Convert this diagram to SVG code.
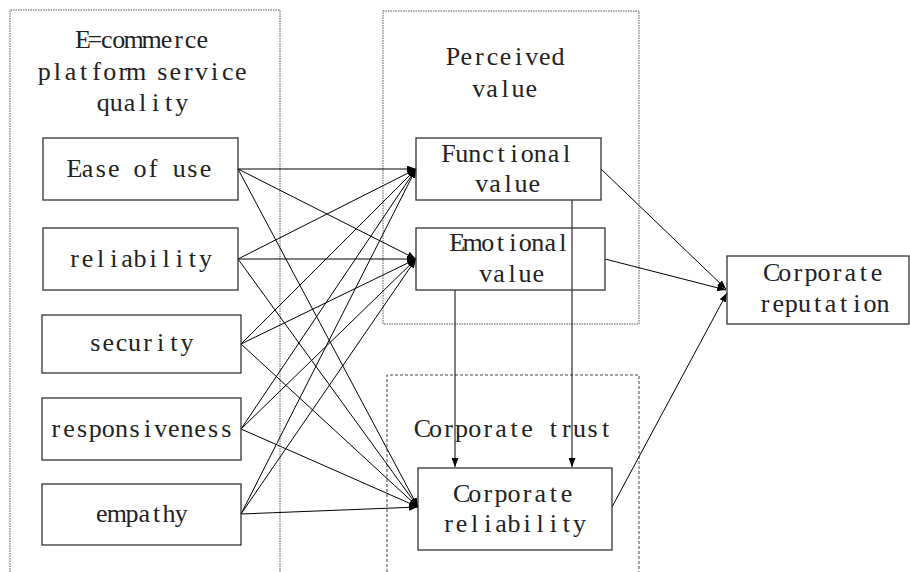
<svg xmlns="http://www.w3.org/2000/svg" width="910" height="572" viewBox="0 0 910 572">
  <style>
    .frame { fill: none; stroke: #555; stroke-width: 1; stroke-dasharray: 1.5 1; }
    .frame-dash { fill: none; stroke: #444; stroke-width: 1; stroke-dasharray: 3 2; }
    .box { fill: none; stroke: #333; stroke-width: 1.3; }
    /* labels are set on a fixed character pitch: one x per glyph, each glyph centred in its cell */
    .lbl { font-family: "Liberation Serif", "Times New Roman", serif; font-size: 26px; fill: #222; text-anchor: middle; }
    .link { fill: none; stroke: #000; stroke-width: 1; marker-end: url(#arrow); }
  </style>
  <defs>
    <marker id="arrow" markerUnits="userSpaceOnUse" markerWidth="9" markerHeight="7" refX="9" refY="3.5" orient="auto">
      <path d="M0,0 L9,3.5 L0,7 z" fill="#000"/>
    </marker>
  </defs>
  <rect width="910" height="572" fill="#fff"/>

  <!-- group frames -->
  <g id="frames">
    <path class="frame" d="M10,572 V10 H280 V572"/>
    <rect class="frame" x="383" y="11" width="256" height="313"/>
    <path class="frame-dash" d="M387,572 V375 H639 V572"/>
    <text class="lbl" x="82.9 94.9 106.8 118.7 133.6 151.6 166.6 178.5 190.4 202.3" y="48">E=commerce</text>
    <text class="lbl" x="44.3 57.4 70.5 83.6 96.7 109.8 122.9 136.0 149.1 162.2 175.3 188.4 201.5 214.6 227.7 240.8" y="80">platform service</text>
    <text class="lbl" x="103.2 116.3 129.4 142.5 155.6 168.7 181.8" y="111">quality</text>
    <text class="lbl" x="453.1 466.2 479.3 492.4 505.5 518.6 531.7 544.8 557.9" y="65">Perceived</text>
    <text class="lbl" x="478.8 491.9 505 518.1 531.2" y="97">value</text>
    <text class="lbl" x="422.3 435.4 448.5 461.6 474.7 487.8 500.9 514 527.1 540.2 553.3 566.4 579.5 592.6 605.7" y="437">Corporate trust</text>
  </g>

  <!-- connectors -->
  <g id="connectors">
    <line class="link" x1="238" y1="169" x2="416" y2="169"/>
    <line class="link" x1="238" y1="169" x2="416" y2="259"/>
    <line class="link" x1="238" y1="169" x2="418" y2="507"/>
    <line class="link" x1="238" y1="259" x2="416" y2="169"/>
    <line class="link" x1="238" y1="259" x2="416" y2="259"/>
    <line class="link" x1="238" y1="259" x2="418" y2="507"/>
    <line class="link" x1="241" y1="344" x2="416" y2="169"/>
    <line class="link" x1="241" y1="344" x2="416" y2="259"/>
    <line class="link" x1="241" y1="344" x2="418" y2="507"/>
    <line class="link" x1="241" y1="429" x2="416" y2="169"/>
    <line class="link" x1="241" y1="429" x2="416" y2="259"/>
    <line class="link" x1="241" y1="429" x2="418" y2="507"/>
    <line class="link" x1="241" y1="514" x2="416" y2="169"/>
    <line class="link" x1="241" y1="514" x2="416" y2="259"/>
    <line class="link" x1="241" y1="514" x2="418" y2="507"/>
    <line class="link" x1="601" y1="169" x2="726" y2="289"/>
    <line class="link" x1="605" y1="259" x2="726" y2="290"/>
    <line class="link" x1="612" y1="507" x2="727" y2="293"/>
    <line class="link" x1="455" y1="290" x2="455" y2="467"/>
    <line class="link" x1="572" y1="200" x2="572" y2="467"/>
  </g>

  <!-- service quality dimensions -->
  <g id="ease-of-use">
    <rect class="box" x="43" y="138" width="195" height="62"/>
    <text class="lbl" x="74.5 87.6 100.7 113.8 126.9 140 153.1 166.2 179.3 192.4 205.5" y="177">Ease of use</text>
  </g>
  <g id="reliability">
    <rect class="box" x="43" y="228" width="195" height="62"/>
    <text class="lbl" x="74.5 87.6 100.7 113.8 126.9 140 153.1 166.2 179.3 192.4 205.5" y="267">reliability</text>
  </g>
  <g id="security">
    <rect class="box" x="42" y="315" width="199" height="58"/>
    <text class="lbl" x="95.2 108.3 121.4 134.5 147.6 160.7 173.8 186.9" y="351">security</text>
  </g>
  <g id="responsiveness">
    <rect class="box" x="42" y="398" width="199" height="62"/>
    <text class="lbl" x="55.9 69.0 82.1 95.2 108.3 121.4 134.5 147.6 160.7 173.8 186.9 200.0 213.1 226.2" y="437">responsiveness</text>
  </g>
  <g id="empathy">
    <rect class="box" x="42" y="484" width="199" height="61"/>
    <text class="lbl" x="101.7 116.8 132 144.3 156.7 169 181.3" y="522">empathy</text>
  </g>

  <!-- perceived value -->
  <g id="functional-value">
    <rect class="box" x="416" y="138" width="185" height="62"/>
    <text class="lbl" x="448.6 461.7 474.8 487.9 501.0 514.1 527.2 540.3 553.4 566.5" y="162">Functional</text>
    <text class="lbl" x="481.8 494.9 508 521.1 534.2" y="192">value</text>
  </g>
  <g id="emotional-value">
    <rect class="box" x="416" y="228" width="189" height="62"/>
    <text class="lbl" x="457.3 472.5 487.8 500.3 512.8 525.3 537.8 550.3 562.8" y="251">Emotional</text>
    <text class="lbl" x="485.8 498.9 512 525.1 538.2" y="282">value</text>
  </g>

  <!-- corporate trust -->
  <g id="corporate-reliability">
    <rect class="box" x="418" y="468" width="194" height="82"/>
    <text class="lbl" x="461.6 474.7 487.8 500.9 514 527.1 540.2 553.3 566.4" y="502">Corporate</text>
    <text class="lbl" x="448.5 461.6 474.7 487.8 500.9 514 527.1 540.2 553.3 566.4 579.5" y="532">reliability</text>
  </g>

  <!-- outcome -->
  <g id="corporate-reputation">
    <rect class="box" x="727" y="256" width="182" height="68"/>
    <text class="lbl" x="771.6 784.7 797.8 810.9 824 837.1 850.2 863.3 876.4" y="281">Corporate</text>
    <text class="lbl" x="765.1 778.2 791.3 804.4 817.5 830.6 843.7 856.8 869.9 883.0" y="312">reputation</text>
  </g>
</svg>
